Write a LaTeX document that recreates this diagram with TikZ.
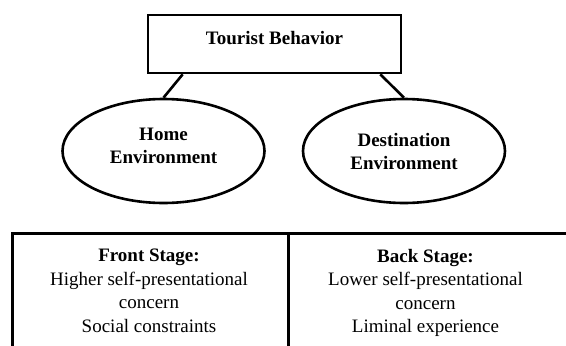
\documentclass[tikz,border=0pt]{standalone}
\usepackage{fontspec}
\setmainfont{Liberation Serif}
\usetikzlibrary{shapes.geometric}
\usetikzlibrary{calc}

\begin{document}
\begin{tikzpicture}[x=1pt,y=-1pt,line width=2.6pt,
	every node/.style={font=\fontsize{19}{23.5}\selectfont},
	topbox/.style={draw,rectangle,minimum width=253pt,minimum height=58pt,inner sep=0pt,
		font=\fontsize{19}{23.5}\selectfont\bfseries},
	envbox/.style={draw,ellipse,minimum width=202pt,minimum height=104pt,inner sep=0pt,
		align=center,font=\fontsize{19}{23}\selectfont\bfseries},
	stagebox/.style={draw,rectangle,minimum width=276pt,minimum height=140pt,
		anchor=north west,inner sep=0pt},
	stagetext/.style={anchor=north,align=center,inner sep=0pt}]

	% page size
	\useasboundingbox (0,0) rectangle (566,346);
	\clip (0,0) rectangle (566,346);

	% top level
	\node[topbox,text depth=12pt] (tourist) at (274.5,44) {Tourist Behavior};

	% the two environments
	\node[envbox,text depth=11pt] (home) at (163.5,151) {Home\\Environment};
	\node[envbox] (dest) at (404,151) {Destination\\Environment};

	% the two stages (run off the bottom of the page)
	\node[stagebox] (front) at (11,232) {};
	\node[stagebox,minimum width=290pt] (back) at (287,232) {};

	\node[stagetext] (fronttext) at (149,248) {\textbf{Front Stage:}\\Higher self-presentational\\concern\\Social constraints};
	\node[stagetext] (backtext) at (425.5,248) {\textbf{Back Stage:}\\Lower self-presentational\\concern\\Liminal experience};

	% connectors
	\draw ($(tourist.south west)+(36,0)$) -- (home.north);
	\draw ($(tourist.south east)+(-22,0)$) -- (dest.north);
	\draw ($(home.south)+(6,0)$) -- ($(home.south)+(6,0)$ |- front.north);
	\draw ($(dest.south)+(2,0)$) -- ($(dest.south)+(2,0)$ |- back.north);

\end{tikzpicture}
\end{document}
